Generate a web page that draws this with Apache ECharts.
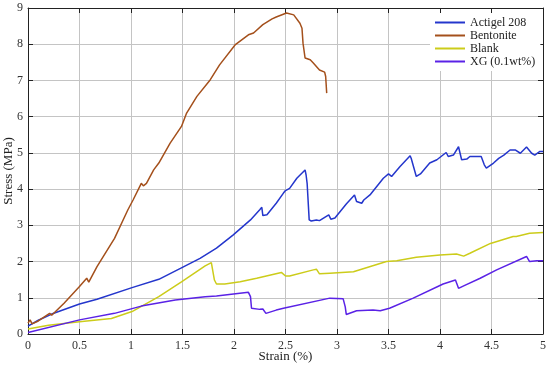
<!DOCTYPE html>
<html><head><meta charset="utf-8">
<script src="https://cdn.jsdelivr.net/npm/echarts@6/dist/echarts.min.js"></script>
<style>html,body{margin:0;padding:0;background:#fff}#c{width:550px;height:368px}</style>
</head><body><div id="c"></div>
<script>
const xTicks = [0, 0.5, 1, 1.5, 2, 2.5, 3, 3.5, 4, 4.5, 5];
const yTicks = [0, 1, 2, 3, 4, 5, 6, 7, 8, 9];
const seriesNames = ['Actigel 208', 'Bentonite', 'Blank', 'XG (0.1wt%)'];

const actigelX = [0, 0.1, 0.23, 0.5, 0.67, 1.01, 1.27, 1.48, 1.67, 1.83, 1.99, 2.16, 2.25, 2.27, 2.28, 2.32, 2.41, 2.48, 2.50, 2.54, 2.61, 2.69, 2.70, 2.71, 2.73, 2.75, 2.80, 2.83, 2.92, 2.94, 2.98, 3.09, 3.17, 3.19, 3.24, 3.26, 3.32, 3.45, 3.50, 3.53, 3.61, 3.71, 3.72, 3.77, 3.81, 3.90, 3.97, 4.06, 4.08, 4.13, 4.18, 4.21, 4.26, 4.29, 4.36, 4.40, 4.43, 4.45, 4.52, 4.57, 4.62, 4.68, 4.73, 4.78, 4.84, 4.89, 4.92, 4.97, 5.0];
const actigelY = [0.22, 0.38, 0.55, 0.83, 0.96, 1.28, 1.51, 1.81, 2.09, 2.37, 2.73, 3.15, 3.43, 3.50, 3.27, 3.29, 3.61, 3.89, 3.96, 4.02, 4.30, 4.53, 4.39, 4.16, 3.15, 3.12, 3.15, 3.13, 3.29, 3.17, 3.20, 3.59, 3.84, 3.66, 3.61, 3.70, 3.84, 4.30, 4.42, 4.35, 4.62, 4.92, 4.85, 4.35, 4.42, 4.72, 4.81, 5.01, 4.90, 4.94, 5.17, 4.81, 4.83, 4.90, 4.90, 4.90, 4.67, 4.58, 4.72, 4.85, 4.94, 5.08, 5.08, 4.99, 5.16, 4.99, 4.94, 5.04, 5.04];

const bentoniteX = [0, 0.02, 0.04, 0.1, 0.21, 0.23, 0.35, 0.5, 0.57, 0.59, 0.67, 0.84, 0.97, 1.02, 1.1, 1.12, 1.15, 1.22, 1.27, 1.38, 1.49, 1.54, 1.64, 1.77, 1.86, 2.01, 2.14, 2.19, 2.28, 2.37, 2.41, 2.51, 2.58, 2.64, 2.66, 2.67, 2.69, 2.74, 2.77, 2.83, 2.88, 2.89, 2.90];
const bentoniteY = [0.3, 0.39, 0.28, 0.36, 0.57, 0.52, 0.85, 1.31, 1.54, 1.43, 1.86, 2.64, 3.43, 3.7, 4.16, 4.09, 4.16, 4.53, 4.72, 5.27, 5.73, 6.10, 6.56, 7.02, 7.43, 7.98, 8.26, 8.31, 8.54, 8.70, 8.75, 8.86, 8.81, 8.58, 8.44, 8.03, 7.62, 7.57, 7.48, 7.29, 7.23, 7.11, 6.65];

const blankX = [0, 0.2, 0.5, 0.81, 1.01, 1.27, 1.49, 1.72, 1.78, 1.81, 1.83, 1.91, 2.06, 2.22, 2.46, 2.50, 2.54, 2.77, 2.80, 2.83, 2.93, 3.16, 3.48, 3.58, 3.77, 4.0, 4.16, 4.23, 4.29, 4.49, 4.71, 4.74, 4.87, 5.0];
const blankY = [0.14, 0.24, 0.34, 0.43, 0.62, 1.03, 1.44, 1.88, 1.97, 1.49, 1.38, 1.38, 1.44, 1.54, 1.70, 1.60, 1.60, 1.77, 1.79, 1.66, 1.68, 1.72, 2.0, 2.02, 2.12, 2.18, 2.21, 2.15, 2.23, 2.50, 2.69, 2.69, 2.78, 2.80];

const xgX = [0, 0.5, 0.84, 1.10, 1.43, 1.72, 1.83, 2.14, 2.16, 2.17, 2.25, 2.28, 2.31, 2.41, 2.48, 2.93, 3.06, 3.08, 3.09, 3.19, 3.35, 3.42, 3.51, 3.74, 4.03, 4.15, 4.16, 4.18, 4.23, 4.39, 4.55, 4.84, 4.87, 4.94, 5.0];
const xgY = [0.04, 0.39, 0.57, 0.77, 0.94, 1.03, 1.05, 1.15, 1.03, 0.71, 0.68, 0.69, 0.57, 0.66, 0.71, 0.99, 0.97, 0.75, 0.54, 0.64, 0.66, 0.64, 0.71, 0.99, 1.38, 1.49, 1.44, 1.26, 1.33, 1.54, 1.77, 2.14, 2.0, 2.02, 2.02];

const colors = ['#2436cc', '#a4501c', '#cccc1a', '#5a22e6'];
const zip = (xs, ys) => xs.map((x, i) => [x, ys[i]]);
const allData = [zip(actigelX, actigelY), zip(bentoniteX, bentoniteY), zip(blankX, blankY), zip(xgX, xgY)];

const font = 'Liberation Serif';
const lineCol = '#222';
const gridCol = '#c4c4c4';
const xMin = xTicks[0], xMax = xTicks[xTicks.length - 1];
const yMin = yTicks[0], yMax = yTicks[yTicks.length - 1];

function xAxisCfg(pos, main) {
  return {
    type: 'value', position: pos, min: xMin, max: xMax, interval: 0.5,
    axisLine: { show: true, onZero: false, lineStyle: { color: lineCol, width: 1 } },
    axisTick: { show: true, inside: true, length: 5, lineStyle: { color: lineCol } },
    axisLabel: { show: main, color: '#333', fontFamily: font, fontSize: 12, margin: 6 },
    splitLine: { show: main, lineStyle: { color: gridCol, width: 1 } },
    name: main ? 'Strain (%)' : '', nameLocation: 'middle', nameGap: 16, nameMoveOverlap: false,
    nameTextStyle: { color: '#222', fontFamily: font, fontSize: 13 }
  };
}
function yAxisCfg(pos, main) {
  return {
    type: 'value', position: pos, min: yMin, max: yMax, interval: 1,
    axisLine: { show: true, onZero: false, lineStyle: { color: lineCol, width: 1 } },
    axisTick: { show: true, inside: true, length: 5, lineStyle: { color: lineCol } },
    axisLabel: { show: main, color: '#333', fontFamily: font, fontSize: 12, margin: 5 },
    splitLine: { show: main, lineStyle: { color: gridCol, width: 1 } },
    name: main ? 'Stress (MPa)' : '', nameLocation: 'middle', nameGap: 13, nameMoveOverlap: false,
    nameTextStyle: { color: '#222', fontFamily: font, fontSize: 13 }
  };
}

const chart = echarts.init(document.getElementById('c'), null, { renderer: 'canvas' });
chart.setOption({
  animation: false,
  backgroundColor: '#fff',
  grid: { left: 28, right: 7, top: 8, bottom: 34, containLabel: false, outerBoundsMode: 'none' },
  xAxis: [xAxisCfg('bottom', true), xAxisCfg('top', false)],
  yAxis: [yAxisCfg('left', true), yAxisCfg('right', false)],
  legend: {
    orient: 'vertical', left: 430, top: 13, padding: [3, 5, 3, 5],
    backgroundColor: '#fff', itemGap: 0, itemWidth: 30, itemHeight: 2,
    icon: 'rect',
    textStyle: { fontFamily: font, fontSize: 12, color: '#222', lineHeight: 13 },
    data: seriesNames
  },
  series: seriesNames.map((n, i) => ({
    name: n, type: 'line', data: allData[i], showSymbol: false, symbol: 'none',
    color: colors[i], lineStyle: { width: 1.5, color: colors[i] }, z: 3
  }))
});
</script></body></html>
